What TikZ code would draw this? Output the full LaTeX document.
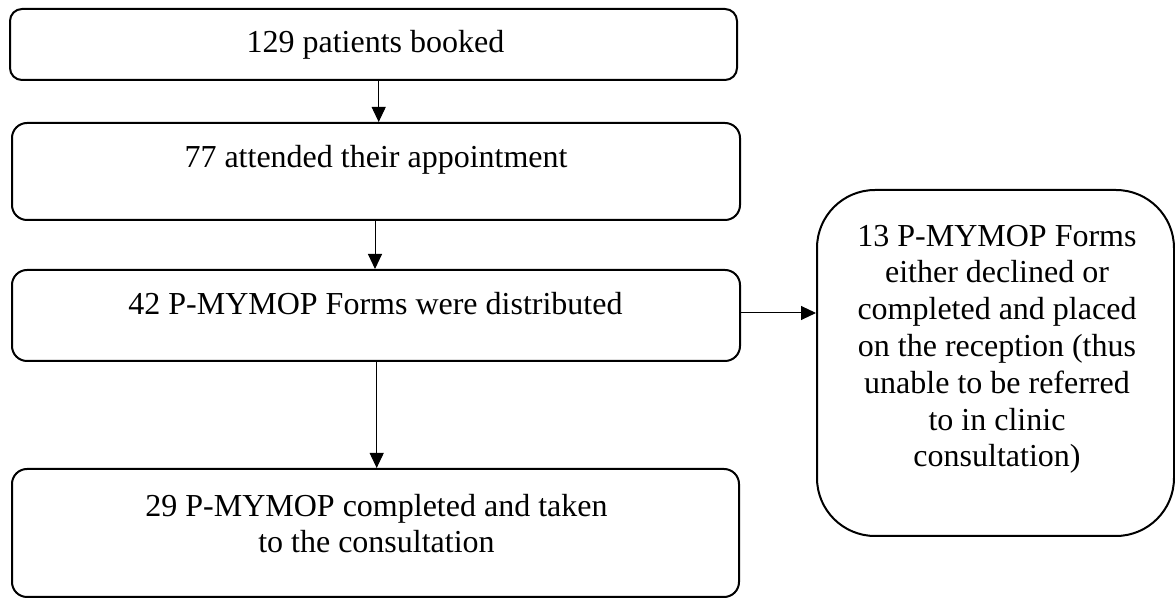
\documentclass[tikz,border=0pt]{standalone}
\usepackage{fontspec}
\setmainfont{Liberation Serif}
\usetikzlibrary{fit,arrows.meta}
\begin{document}
\begin{tikzpicture}[x=0.5pt,y=-0.5pt,
  box/.style={draw=black, line width=1pt, rounded corners=7.5pt, inner sep=0pt},
  txt/.style={font=\fontsize{16pt}{18.4pt}\selectfont, align=center, inner sep=0pt, anchor=base},
  arr/.style={line width=0.5pt, -{Triangle[length=7.5pt,width=7pt]}}]
\useasboundingbox (0,0) rectangle (1175,598);

% flow boxes
\node[box, rounded corners=6pt, fit={(10,9)(737,80)}] (b1) {};
\node[box, fit={(12,123)(740,220)}] (b2) {};
\node[box, fit={(12,270)(740,361)}] (b3) {};
\node[box, fit={(12,469)(739,597)}] (b4) {};
\node[box, rounded corners=29pt, fit={(817,190)(1174,536)}] (side) {};

% box texts (multi-line nodes are placed by the baseline of their last line)
\node[txt] (t1) at (375.5,53) {129 patients booked};
\node[txt] (t2) at (376,168) {77 attended their appointment};
\node[txt] (t3) at (375.5,315) {42 P-MYMOP Forms were distributed};
\node[txt, font=\fontsize{16pt}{18pt}\selectfont] (t4) at (376.5,553)
  {29 P-MYMOP completed and taken\\to the consultation};
\node[txt] (t5) at (997,467)
  {13 P-MYMOP Forms\\either declined or\\completed and placed\\on the reception (thus\\unable to be referred\\to in clinic\\consultation)};

% connectors
\coordinate (c1) at (378.7,0);
\coordinate (c2) at (375,0);
\coordinate (c3) at (376.7,0);
\coordinate (c4) at (0,313);
\draw[arr] (c1 |- b1.south) -- (c1 |- b2.north);
\draw[arr] (c2 |- b2.south) -- (c2 |- b3.north);
\draw[arr] (c3 |- b3.south) -- (c3 |- b4.north);
\draw[arr] (c4 -| b3.east) -- (c4 -| side.west);
\end{tikzpicture}
\end{document}
